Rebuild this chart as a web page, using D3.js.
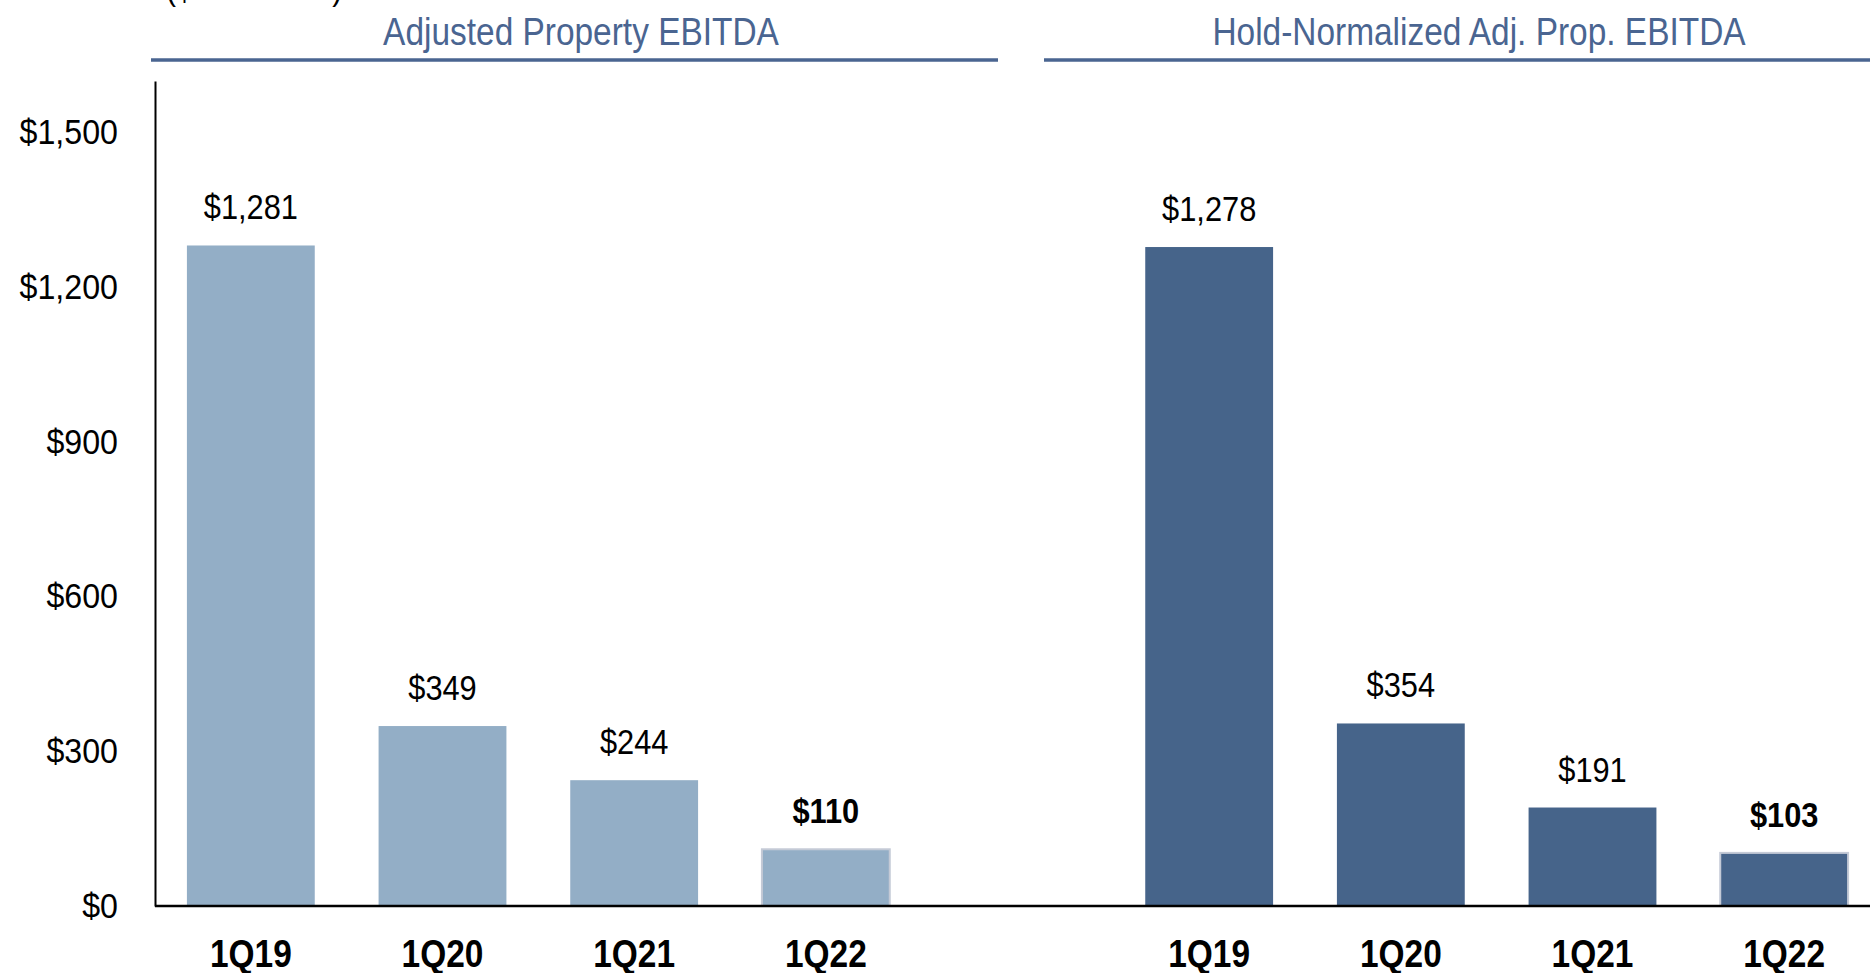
<!DOCTYPE html>
<html>
<head>
<meta charset="utf-8">
<script src="https://cdn.jsdelivr.net/npm/d3@7"></script>
<style>
  html, body { margin: 0; padding: 0; background: #fff; overflow: hidden; }
  svg text { font-family: "Liberation Sans", Arial, sans-serif; }
</style>
</head>
<body>
<div id="chart"></div>
<script>
// chart data
const quarters = ["1Q19", "1Q20", "1Q21", "1Q22"];
const adjustedEbitda = [1281, 349, 244, 110];
const holdNormalizedEbitda = [1278, 354, 191, 103];
const panelTitles = ["Adjusted Property EBITDA", "Hold-Normalized Adj. Prop. EBITDA"];
const yTicks = [0, 300, 600, 900, 1200, 1500];
const unitNote = "($ in millions)";

// no narrow font installed, so squeeze the text sideways
var narrow = 0.88;

document.addEventListener("DOMContentLoaded", function () {
  drawChart();
});

function place(px, py) {
  return "translate(" + px + "," + py + ") scale(" + narrow + ",1)";
}

function drawChart() {
  var width = 1870, height = 973;

  var svg = d3.select("#chart")
    .append("svg")
    .attr("width", width)
    .attr("height", height);

  // one band per slot, with an empty slot between the two groups
  var slots = quarters.map(q => "a_" + q).concat(["gap"], quarters.map(q => "b_" + q));

  var x = d3.scaleBand()
    .domain(slots)
    .range([155, 1880])
    .paddingInner(0.333)
    .paddingOuter(0.1665);

  var y = d3.scaleLinear()
    .domain([0, 1600])
    .range([906, 81]);

  var bars = [];
  quarters.forEach(function (q, i) {
    bars.push({ slot: "a_" + q, label: q, value: adjustedEbitda[i], color: "#93aec6", last: i == quarters.length - 1 });
  });
  quarters.forEach(function (q, i) {
    bars.push({ slot: "b_" + q, label: q, value: holdNormalizedEbitda[i], color: "#46648a", last: i == quarters.length - 1 });
  });

  // units note, mostly cut off at the top edge like the original slide
  svg.append("text")
    .attr("transform", place(166, 0))
    .style("font-size", "34px")
    .style("fill", "#000")
    .text(unitNote);

  // panel titles with underlines
  var panels = [
    { title: panelTitles[0], x1: 151, x2: 998, cx: 581 },
    { title: panelTitles[1], x1: 1044, x2: 1870, cx: 1479 }
  ];
  svg.selectAll(".ptitle")
    .data(panels)
    .enter()
    .append("text")
    .attr("class", "ptitle")
    .attr("transform", d => place(d.cx, 45))
    .attr("text-anchor", "middle")
    .style("font-size", "38px")
    .style("fill", "#4a6591")
    .text(d => d.title);

  svg.selectAll(".pline")
    .data(panels)
    .enter()
    .append("line")
    .attr("x1", d => d.x1)
    .attr("x2", d => d.x2)
    .attr("y1", 60)
    .attr("y2", 60)
    .attr("stroke", "#4a6591")
    .attr("stroke-width", 3.5);

  // bars
  svg.selectAll(".bar")
    .data(bars)
    .enter()
    .append("rect")
    .attr("x", d => x(d.slot))
    .attr("y", d => y(d.value))
    .attr("width", x.bandwidth())
    .attr("height", d => y(0) - y(d.value))
    .attr("fill", d => d.color)
    .attr("stroke", d => d.last ? "#c4cad6" : "none")
    .attr("stroke-width", 2);

  // value labels
  svg.selectAll(".val")
    .data(bars)
    .enter()
    .append("text")
    .attr("transform", d => place(x(d.slot) + x.bandwidth() / 2, y(d.value) - 26))
    .attr("text-anchor", "middle")
    .style("font-size", "35px")
    .style("font-weight", d => d.last ? "bold" : "normal")
    .style("fill", "#000")
    .text(d => "$" + d3.format(",")(d.value));

  // category labels
  svg.selectAll(".cat")
    .data(bars)
    .enter()
    .append("text")
    .attr("transform", d => place(x(d.slot) + x.bandwidth() / 2, 967))
    .attr("text-anchor", "middle")
    .style("font-size", "38px")
    .style("font-weight", "bold")
    .style("fill", "#000")
    .text(d => d.label);

  // y axis
  var yAxis = svg.append("g")
    .attr("transform", "translate(155,0)")
    .call(d3.axisLeft(y).tickValues(yTicks).tickSize(0).tickPadding(37).tickFormat(d => "$" + d3.format(",")(d)));
  yAxis.select(".domain").attr("stroke", "#000").attr("stroke-width", 2);
  yAxis.selectAll("text")
    .attr("font-family", null)
    .attr("x", null)
    .attr("transform", "translate(-37,0) scale(0.92,1)")
    .style("font-size", "35px")
    .style("fill", "#000");

  // x axis baseline
  svg.append("line")
    .attr("x1", 155)
    .attr("x2", width)
    .attr("y1", y(0))
    .attr("y2", y(0))
    .attr("stroke", "#000")
    .attr("stroke-width", 2.5);
}
</script>
</body>
</html>
